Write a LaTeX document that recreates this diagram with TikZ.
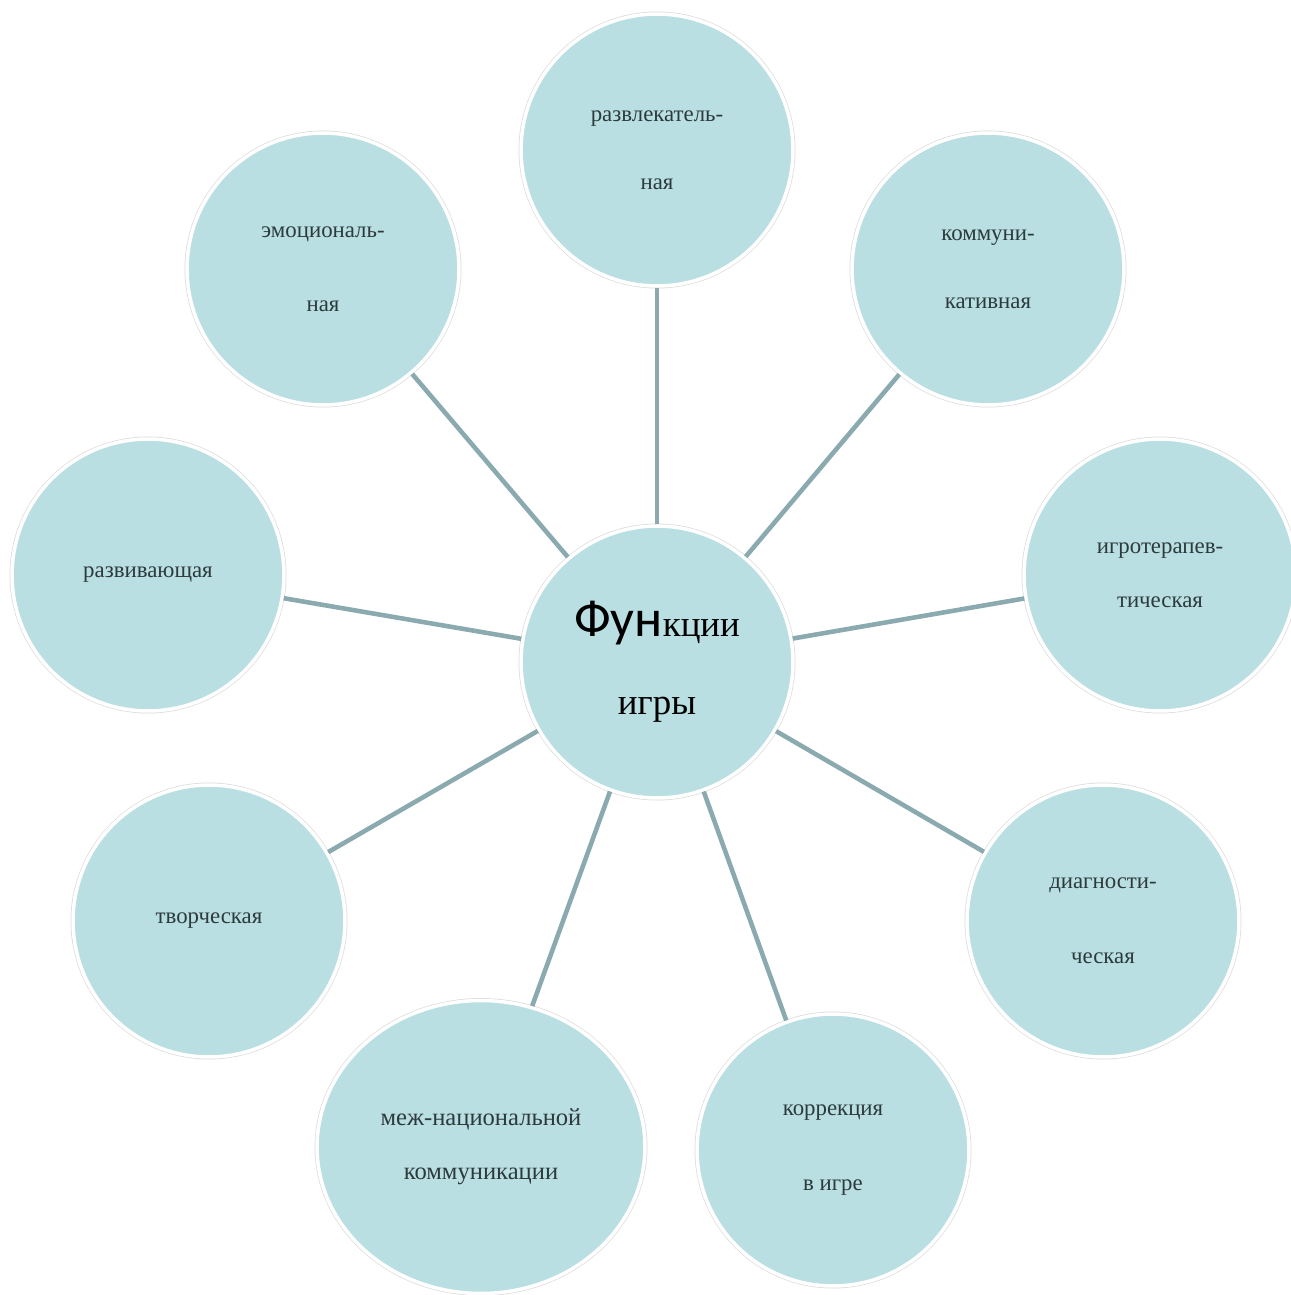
\documentclass[tikz,border=0pt]{standalone}
\usepackage{fontspec}
\setmainfont{Liberation Serif}
\newfontfamily\headfont{Carlito}
\usetikzlibrary{shapes.geometric}

\definecolor{bubble}{HTML}{B9DFE3}
\definecolor{linkcol}{HTML}{8AAAAF}
\definecolor{ink}{HTML}{2C3A3C}

\begin{document}
\begin{tikzpicture}[x=0.02cm,y=-0.02cm,
  func/.style={circle,fill=bubble,draw=white,line width=2pt,
    preaction={draw=black!14,line width=2.8pt},
    minimum size=5.44cm,inner sep=0pt,align=center,text=ink,
    font=\fontsize{13}{15}\selectfont},
  link/.style={draw=linkcol,line width=2.6pt}]
  \useasboundingbox (0,0) rectangle (1291,1295);

  % hub
  \coordinate (c) at (657,662);

  \node[func,text=black,font=\fontsize{21}{23}\selectfont] (game) at (c)
    {{\headfont\fontsize{30}{32}\selectfont Фун}кции\\[0.75cm]игры};

  % the functions round it
  \foreach \nm/\px/\py/\txt in {
      fun/657/150/{развлекатель-\\[0.84cm]ная},
      comm/988/269/{коммуни-\\[0.84cm]кативная},
      ther/1160/575/{игротерапев-\\[0.55cm]тическая},
      diag/1103/921/{диагности-\\[0.97cm]ческая},
      corr/833/1150/{коррекция\\[0.97cm]в игре},
      crea/209/921/{творческая},
      devl/148/575/{развивающая},
      emot/323/269/{эмоциональ-\\[0.95cm]ная}} {
    \node[func] (\nm) at (\px,\py) {\txt};
  }

  \node[func,ellipse,minimum width=6.56cm,minimum height=5.86cm,
    font=\fontsize{14}{16}\selectfont] (natn) at (481,1147)
    {меж-национальной\\[0.52cm]коммуникации};

  \foreach \nm in {fun,comm,ther,diag,corr,natn,crea,devl,emot}
    \draw[link] (game) -- (\nm);

\end{tikzpicture}
\end{document}
